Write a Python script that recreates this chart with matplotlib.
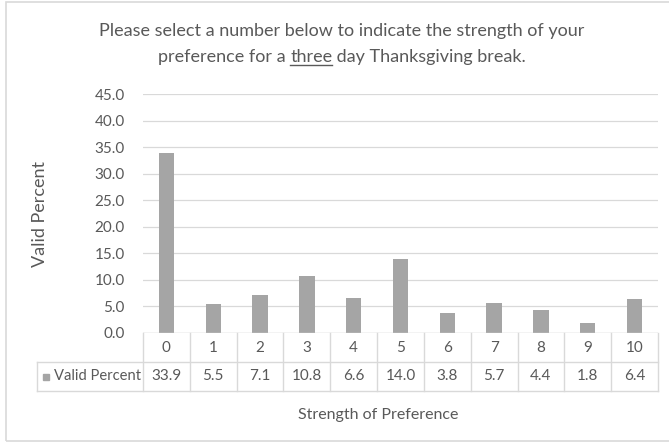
import matplotlib.pyplot as plt
from matplotlib.patches import Rectangle
from matplotlib.lines import Line2D

# ---- data ----
categories = ['0', '1', '2', '3', '4', '5', '6', '7', '8', '9', '10']
valid_percent = [33.9, 5.5, 7.1, 10.8, 6.6, 14.0, 3.8, 5.7, 4.4, 1.8, 6.4]
yticks = [0, 5, 10, 15, 20, 25, 30, 35, 40, 45]
series_name = 'Valid Percent'

BAR = '#A5A5A5'
TXT = '#595959'
GRID = '#D9D9D9'
FONT = 'Lato'

plt.rcParams['font.family'] = [FONT, 'DejaVu Sans']

W, H = 669, 442
fig = plt.figure(figsize=(W / 100, H / 100), dpi=100)

def px(x, y):
    # pixel (from top-left) -> figure fraction
    return x / W, 1 - y / H

# outer chart border
fig.patches.append(Rectangle(px(6, 441), (680 - 6) / W, (441 - 2) / H,
                             transform=fig.transFigure, fill=False,
                             edgecolor='#D9D9D9', lw=1.2))

left, right, top, bottom = 143, 658, 94, 333
ax = fig.add_axes([left / W, 1 - bottom / H, (right - left) / W, (bottom - top) / H])

x = list(range(len(categories)))
ax.bar(x, valid_percent, width=0.33, color=BAR, zorder=3)
ax.set_xlim(-0.5, len(categories) - 0.5)
ax.set_ylim(0, 45)
ax.set_yticks(yticks)
ax.set_yticklabels([f'{v:.1f}' for v in yticks], color=TXT, fontsize=11)
ax.tick_params(axis='y', length=0, pad=13)
ax.set_xticks([])
ax.grid(axis='y', color=GRID, lw=0.9, zorder=0)
for s in ax.spines.values():
    s.set_visible(False)
ax.axhline(0, color=GRID, lw=1.0, zorder=4)

# ---- data table under the axis ----
col_px = (right - left) / len(categories)
units_per_px_y = 45 / (bottom - top)
row_h = 29 * units_per_px_y
legend_left = -0.5 - (left - 37) / col_px
xr = len(categories) - 0.5
tbl = dict(color=GRID, lw=1.0, clip_on=False)

for i in range(len(categories) + 1):
    ax.plot([i - 0.5, i - 0.5], [0, -2 * row_h], **tbl)
ax.plot([legend_left, xr], [-row_h, -row_h], **tbl)
ax.plot([legend_left, xr], [-2 * row_h, -2 * row_h], **tbl)
ax.plot([legend_left, legend_left], [-row_h, -2 * row_h], **tbl)

for i, (c, v) in enumerate(zip(categories, valid_percent)):
    ax.text(i, -row_h / 2, c, ha='center', va='center', color=TXT, fontsize=11)
    ax.text(i, -1.5 * row_h, f'{v:.1f}', ha='center', va='center', color=TXT, fontsize=11)

# legend key inside the table
ax.add_patch(Rectangle((legend_left + 6 / col_px, -1.5 * row_h - 3 * units_per_px_y),
                       6 / col_px, 6 * units_per_px_y, color=BAR, clip_on=False))
ax.text(legend_left + 17 / col_px, -1.5 * row_h, series_name, ha='left', va='center',
        color=TXT, fontsize=10.6)

# axis titles
fig.text(*px(40, 214), 'Valid Percent', rotation=90, ha='center', va='center',
         color=TXT, fontsize=13)
fig.text(*px(378, 415), 'Strength of Preference', ha='center', va='center',
         color=TXT, fontsize=11.5)

# title, second line has an underlined word
title_fs = 13
cx = 342
fig.text(*px(cx, 31), 'Please select a number below to indicate the strength of your',
         ha='center', va='center', color=TXT, fontsize=title_fs)

parts = ['preference for a ', 'three', ' day Thanksgiving break.']
texts = [fig.text(0, 0, p, ha='left', va='baseline', color=TXT, fontsize=title_fs)
         for p in parts]
fig.canvas.draw()
r = fig.canvas.get_renderer()
widths = [t.get_window_extent(r).width for t in texts]
# leading/trailing spaces are measured against a neighbour glyph
full = fig.text(0, 0, ''.join(parts), fontsize=title_fs)
total = full.get_window_extent(r).width
full.remove()
w0 = fig.text(0, 0, parts[0] + 'x', fontsize=title_fs).get_window_extent(r).width
wx = fig.text(0, 0, 'x', fontsize=title_fs).get_window_extent(r).width
for t in fig.texts[-2:]:
    t.remove()
w0 -= wx
base_y = H - 62
x0 = cx - total / 2
texts[0].set_position((x0 / W, base_y / H))
texts[1].set_position(((x0 + w0) / W, base_y / H))
texts[2].set_position(((x0 + w0 + widths[1]) / W, base_y / H))
fig.lines.append(Line2D([(x0 + w0) / W, (x0 + w0 + widths[1]) / W],
                        [(base_y - 3) / H, (base_y - 3) / H],
                        transform=fig.transFigure, color=TXT, lw=1.0))

fig.savefig('out.png', dpi=100, facecolor='white')
